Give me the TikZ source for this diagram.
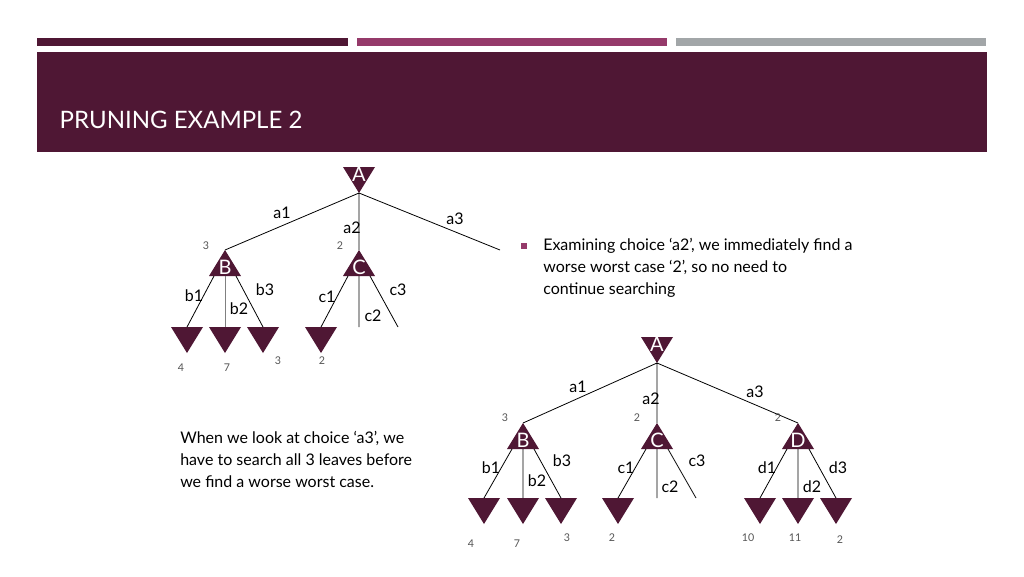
\documentclass[tikz,border=0pt]{standalone}
\usepackage{fontspec}
\setmainfont{Lato}
\definecolor{dk}{HTML}{4F1734}
\definecolor{pk}{HTML}{953A6A}
\definecolor{gy}{HTML}{A2A6A8}
\definecolor{vl}{HTML}{555555}
\begin{document}
\begin{tikzpicture}[x=0.75pt,y=-0.75pt,
 lbl/.style={font=\fontsize{12}{14}\selectfont},
 val/.style={font=\fontsize{8}{10}\selectfont,text=vl},
 nl/.style={font=\fontsize{15}{16}\selectfont,text=white},
 edge/.style={line width=0.6pt}]
\useasboundingbox (0,0) rectangle (1024,576);
\fill[white] (0,0) rectangle (1024,576);
\fill[dk] (37,38) rectangle (348,46);
\fill[pk] (357,38) rectangle (667,46);
\fill[gy] (676,38) rectangle (986,46);
\fill[dk] (37,52) rectangle (987,152);
\node[anchor=west,text=white,font=\fontsize{18}{20}\selectfont] (title) at (55,120) {PRUNING EXAMPLE 2};
% helpers
\newcommand{\dtri}[3]{\fill[dk] (#1-16,#2) -- (#1+16,#2) -- (#1,#2+26) -- cycle; \coordinate (#3) at (#1,#2);\coordinate (#3b) at (#1,#2+26);}
\newcommand{\utri}[3]{\fill[dk] (#1,#2) -- (#1+16,#2+26) -- (#1-16,#2+26) -- cycle; \coordinate (#3) at (#1,#2);\coordinate (#3l) at (#1-11,#2+26);\coordinate (#3m) at (#1,#2+26);\coordinate (#3r) at (#1+11,#2+26);}
% ---- top tree
\dtri{359}{167}{tA}
\utri{225}{250}{tB}
\utri{359}{250}{tC}
\dtri{187}{327}{tl1}\dtri{225}{327}{tl2}\dtri{263}{327}{tl3}\dtri{321}{327}{tl4}
\coordinate (ta3) at (500,250);
\coordinate (tc2) at (359,327);
\coordinate (tc3) at (398,327);
\draw[edge] (tAb) -- (tB) (tAb) -- (tC) (tAb) -- (ta3);
\draw[edge] (tBl) -- (tl1) (tBr) -- (tl3) (tCl) -- (tl4) (tCm) -- (tc2) (tCr) -- (tc3);
\draw[edge,gray] (tBm) -- (tl2);
\node[nl] (tAn) at (359,174) {A};
\node[nl] (tBn) at (225,267) {B};
\node[nl] (tCn) at (359,267) {C};
\node[lbl] (t1) at (282,213) {a1};
\node[lbl] (t2) at (352,228) {a2};
\node[lbl] (t3) at (455,219) {a3};
\node[val] (t4) at (206,246) {3};
\node[val] (t5) at (340,246) {2};
\node[lbl] (t6) at (194,296) {b1};
\node[lbl] (t7) at (239,309) {b2};
\node[lbl] (t8) at (265,290) {b3};
\node[lbl] (t9) at (327,297) {c1};
\node[lbl] (t10) at (373,316) {c2};
\node[lbl] (t11) at (398,290) {c3};
\node[val] (t12) at (181,368) {4};
\node[val] (t13) at (227,368) {7};
\node[val] (t14) at (278,361) {3};
\node[val] (t15) at (322,361) {2};
% ---- bottom tree
\dtri{657}{337}{bA}
\utri{523}{423}{bB}
\utri{657}{423}{bC}
\utri{798}{423}{bD}
\dtri{484}{498}{bl1}\dtri{523}{498}{bl2}\dtri{561}{498}{bl3}\dtri{618}{498}{bl4}
\dtri{760}{498}{bl5}\dtri{798}{498}{bl6}\dtri{836}{498}{bl7}
\coordinate (bc2) at (657,498);
\coordinate (bc3) at (696,498);
\draw[edge] (bAb) -- (bB) (bAb) -- (bC) (bAb) -- (bD);
\draw[edge] (bBl) -- (bl1) (bBm) -- (bl2) (bBr) -- (bl3);
\draw[edge] (bCl) -- (bl4) (bCm) -- (bc2) (bCr) -- (bc3);
\draw[edge] (bDl) -- (bl5) (bDm) -- (bl6) (bDr) -- (bl7);
\node[nl] (bAn) at (657,344) {A};
\node[nl] (bBn) at (523,440) {B};
\node[nl] (bCn) at (657,440) {C};
\node[nl] (bDn) at (798,440) {D};
\node[lbl] (u1) at (578,387) {a1};
\node[lbl] (u2) at (651,399) {a2};
\node[lbl] (u3) at (755,392) {a3};
\node[val] (u4) at (505,418) {3};
\node[val] (u5) at (637,418) {2};
\node[val] (u6) at (778,418) {2};
\node[lbl] (u7) at (491,468) {b1};
\node[lbl] (u8) at (537,481) {b2};
\node[lbl] (u9) at (562,461) {b3};
\node[lbl] (u10) at (626,468) {c1};
\node[lbl] (u11) at (670,487) {c2};
\node[lbl] (u12) at (697,461) {c3};
\node[lbl] (u13) at (767,468) {d1};
\node[lbl] (u14) at (812,487) {d2};
\node[lbl] (u15) at (838,468) {d3};
\node[val] (u16) at (471,544) {4};
\node[val] (u17) at (517,544) {7};
\node[val] (u18) at (567,538) {3};
\node[val] (u19) at (612,538) {2};
\node[val] (u20) at (748,538) {10};
\node[val] (u21) at (795,538) {11};
\node[val] (u22) at (840,540) {2};
% ---- texts
\fill[pk] (521,243) rectangle (527,249);
\node[anchor=north west,align=left,inner sep=0pt,font=\fontsize{12}{16.5}\selectfont] (txt1) at (543,238)
 {Examining choice ‘a2’, we immediately find a\\worse worst case ‘2’, so no need to\\continue searching};
\node[anchor=north west,align=left,inner sep=0pt,font=\fontsize{12}{16.5}\selectfont] (txt2) at (180,431)
 {When we look at choice ‘a3’, we\\have to search all 3 leaves before\\we find a worse worst case.};
\end{tikzpicture}
\end{document}
